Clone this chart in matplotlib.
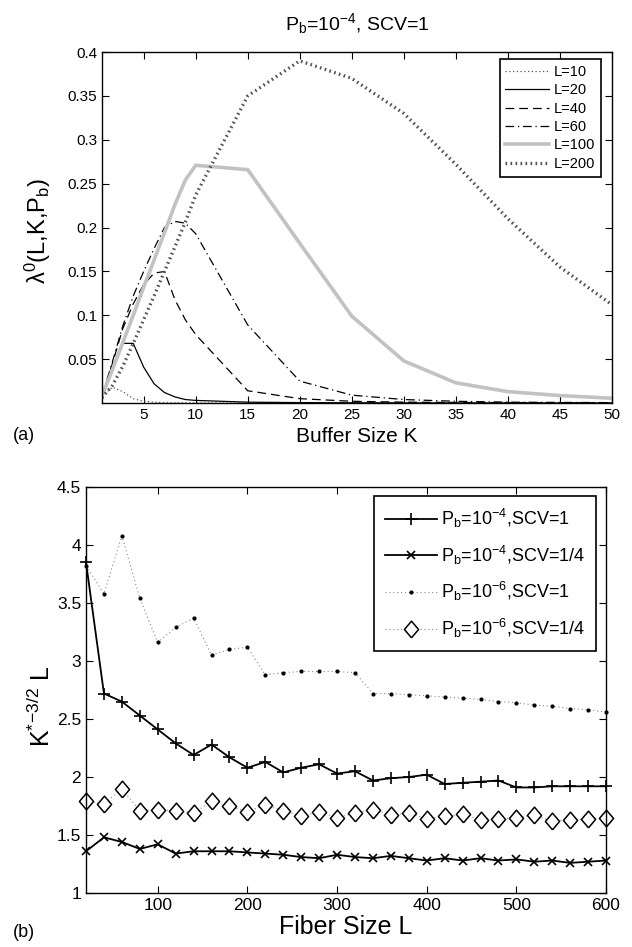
import numpy as np
import matplotlib
matplotlib.use("Agg")
import matplotlib.pyplot as plt

plt.rcParams['font.family'] = ['Liberation Sans', 'DejaVu Sans']
plt.rcParams['mathtext.fontset'] = 'custom'
plt.rcParams['mathtext.rm'] = 'Liberation Sans'
plt.rcParams['mathtext.it'] = 'Liberation Sans:italic'
plt.rcParams['mathtext.bf'] = 'Liberation Sans:bold'

# (a) lambda^0(L,K,Pb) vs buffer size K
K = [1, 2, 3, 4, 5, 6, 7, 8, 9, 10, 15, 20, 25, 30, 35, 40, 45, 50]
lam_L10 = [0.008, 0.018, 0.013, 0.005, 0.002, 0.001, 0.0005, 0.0003, 0.0002, 0.0001,
           0.0, 0.0, 0.0, 0.0, 0.0, 0.0, 0.0, 0.0]
lam_L20 = [0.008, 0.037, 0.068, 0.068, 0.041, 0.022, 0.012, 0.007, 0.004, 0.003,
           0.001, 0.0005, 0.0003, 0.0002, 0.0001, 0.0001, 0.0, 0.0]
lam_L40 = [0.008, 0.045, 0.085, 0.113, 0.135, 0.148, 0.150, 0.118, 0.095, 0.078,
           0.014, 0.005, 0.002, 0.001, 0.0007, 0.0005, 0.0003, 0.0002]
lam_L60 = [0.008, 0.047, 0.088, 0.122, 0.150, 0.176, 0.200, 0.207, 0.205, 0.193,
           0.089, 0.025, 0.009, 0.004, 0.002, 0.001, 0.0007, 0.0005]
lam_L100 = [0.008, 0.038, 0.069, 0.100, 0.132, 0.163, 0.194, 0.226, 0.254, 0.271,
            0.266, 0.182, 0.099, 0.048, 0.023, 0.013, 0.0085, 0.0055]
lam_L200 = [0.006, 0.020, 0.042, 0.068, 0.095, 0.122, 0.150, 0.178, 0.206, 0.237,
            0.350, 0.390, 0.370, 0.330, 0.272, 0.210, 0.155, 0.112]

# (b) K*^(-3/2) L vs fiber size L
L = list(range(20, 601, 20))
pb4_scv1 = [3.85, 2.72, 2.65, 2.53, 2.41, 2.29, 2.19, 2.28, 2.17, 2.08,
            2.13, 2.04, 2.08, 2.11, 2.03, 2.05, 1.97, 1.99, 2.00, 2.02,
            1.94, 1.95, 1.96, 1.97, 1.91, 1.91, 1.92, 1.92, 1.92, 1.92]
pb4_scv14 = [1.36, 1.48, 1.44, 1.38, 1.42, 1.34, 1.36, 1.36, 1.36, 1.35,
             1.34, 1.33, 1.31, 1.30, 1.33, 1.31, 1.30, 1.32, 1.30, 1.28,
             1.30, 1.28, 1.30, 1.28, 1.29, 1.27, 1.28, 1.26, 1.27, 1.28]
pb6_scv1 = [3.82, 3.58, 4.08, 3.54, 3.16, 3.29, 3.37, 3.05, 3.10, 3.12,
            2.88, 2.90, 2.91, 2.91, 2.91, 2.90, 2.72, 2.72, 2.71, 2.70,
            2.69, 2.68, 2.67, 2.65, 2.64, 2.62, 2.61, 2.59, 2.58, 2.56]
pb6_scv14 = [1.79, 1.77, 1.90, 1.71, 1.72, 1.71, 1.69, 1.79, 1.75, 1.70,
             1.76, 1.71, 1.66, 1.70, 1.65, 1.69, 1.72, 1.67, 1.69, 1.64,
             1.66, 1.68, 1.63, 1.64, 1.65, 1.67, 1.62, 1.63, 1.64, 1.65]

fig = plt.figure(figsize=(6.32, 9.47), dpi=100)

# ---------- panel (a) ----------
ax1 = fig.add_axes([0.1614, 0.5744, 0.807, 0.3706])
ax1.plot(K, lam_L10, color='#555555', lw=0.9, linestyle=(0, (1, 2)), label='L=10')
ax1.plot(K, lam_L20, color='black', lw=0.9, label='L=20')
ax1.plot(K, lam_L40, color='black', lw=0.9, linestyle=(0, (7, 4)), label='L=40')
ax1.plot(K, lam_L60, color='black', lw=0.9, linestyle=(0, (7, 3, 1, 3)), label='L=60')
ax1.plot(K, lam_L100, color='#c2c2c2', lw=2.6, label='L=100')
ax1.plot(K, lam_L200, color='#555555', lw=2.4, linestyle=(0, (0.5, 1.0)), label='L=200')

ax1.set_xlim(1, 50)
ax1.set_ylim(0, 0.4)
ax1.set_xticks(range(5, 51, 5))
ax1.set_yticks([0.05, 0.1, 0.15, 0.2, 0.25, 0.3, 0.35, 0.4])
ax1.set_yticklabels(['0.05', '0.1', '0.15', '0.2', '0.25', '0.3', '0.35', '0.4'])
ax1.tick_params(direction='in', top=True, right=True, length=5, labelsize=11)
ax1.set_xlabel('Buffer Size K', fontsize=15)
ax1.xaxis.set_label_coords(0.5, -0.068)
ax1.set_ylabel('λ$^\\mathrm{0}$(L,K,P$_\\mathrm{b}$)', fontsize=17)
ax1.yaxis.set_label_coords(-0.097, 0.49)
leg1 = ax1.legend(loc='upper right', bbox_to_anchor=(0.978, 0.98), borderaxespad=0,
                  fontsize=10.5, handlelength=3.0, labelspacing=0.3, fancybox=False,
                  edgecolor='black', framealpha=1, borderpad=0.4, handletextpad=0.3)
leg1.get_frame().set_linewidth(1.2)

fig.text(0.565, 0.9747, 'P$_\\mathrm{b}$=10$^{\\mathrm{-4}}$, SCV=1', ha='center', va='center',
         fontsize=14)
fig.text(13 / 632, 1 - 435 / 947, '(a)', ha='left', va='center', fontsize=13)

# ---------- panel (b) ----------
ax2 = fig.add_axes([0.1361, 0.0570, 0.8228, 0.4287])
diamond = [(0, -1), (0.85, 0), (0, 1), (-0.85, 0), (0, -1)]
ax2.plot(L, pb4_scv1, color='black', lw=1.3, marker='+', ms=9, mew=1.2,
         label='P$_\\mathrm{b}$=10$^{\\mathrm{-4}}$,SCV=1', clip_on=False)
ax2.plot(L, pb4_scv14, color='black', lw=1.3, marker='x', ms=6, mew=1.2,
         label='P$_\\mathrm{b}$=10$^{\\mathrm{-4}}$,SCV=1/4', clip_on=False)
ax2.plot(L, pb6_scv1, color='#888888', lw=0.8, linestyle=(0, (1, 2.5)), marker='.',
         ms=4, mfc='black', mec='black',
         label='P$_\\mathrm{b}$=10$^{\\mathrm{-6}}$,SCV=1', clip_on=False)
ax2.plot(L, pb6_scv14, color='#888888', lw=0.8, linestyle=(0, (1, 2.5)), marker=diamond,
         ms=12, mfc='white', mec='black', mew=1.1,
         label='P$_\\mathrm{b}$=10$^{\\mathrm{-6}}$,SCV=1/4', clip_on=False)

ax2.set_xlim(20, 600)
ax2.set_ylim(1, 4.5)
ax2.set_xticks([100, 200, 300, 400, 500, 600])
ax2.set_yticks([1, 1.5, 2, 2.5, 3, 3.5, 4, 4.5])
ax2.set_yticklabels(['1', '1.5', '2', '2.5', '3', '3.5', '4', '4.5'])
ax2.tick_params(direction='in', top=True, right=True, length=5, labelsize=12.5)
ax2.set_xlabel('Fiber Size L', fontsize=18)
ax2.xaxis.set_label_coords(0.5, -0.055)
ax2.set_ylabel('K$^{\\mathrm{*\\!-\\!3/2}}$ L', fontsize=18)
ax2.yaxis.set_label_coords(-0.06, 0.46)
leg2 = ax2.legend(loc='upper right', bbox_to_anchor=(0.981, 0.978), borderaxespad=0,
                  fontsize=13, handlelength=2.9, labelspacing=0.75, fancybox=False,
                  edgecolor='black', framealpha=1, borderpad=0.6, handletextpad=0.2,
                  numpoints=1)
leg2.get_frame().set_linewidth(1.2)

fig.text(13 / 632, 1 - 932 / 947, '(b)', ha='left', va='center', fontsize=13)

for ax in (ax1, ax2):
    for s in ax.spines.values():
        s.set_linewidth(1.0)

fig.savefig('out.png', dpi=100)
